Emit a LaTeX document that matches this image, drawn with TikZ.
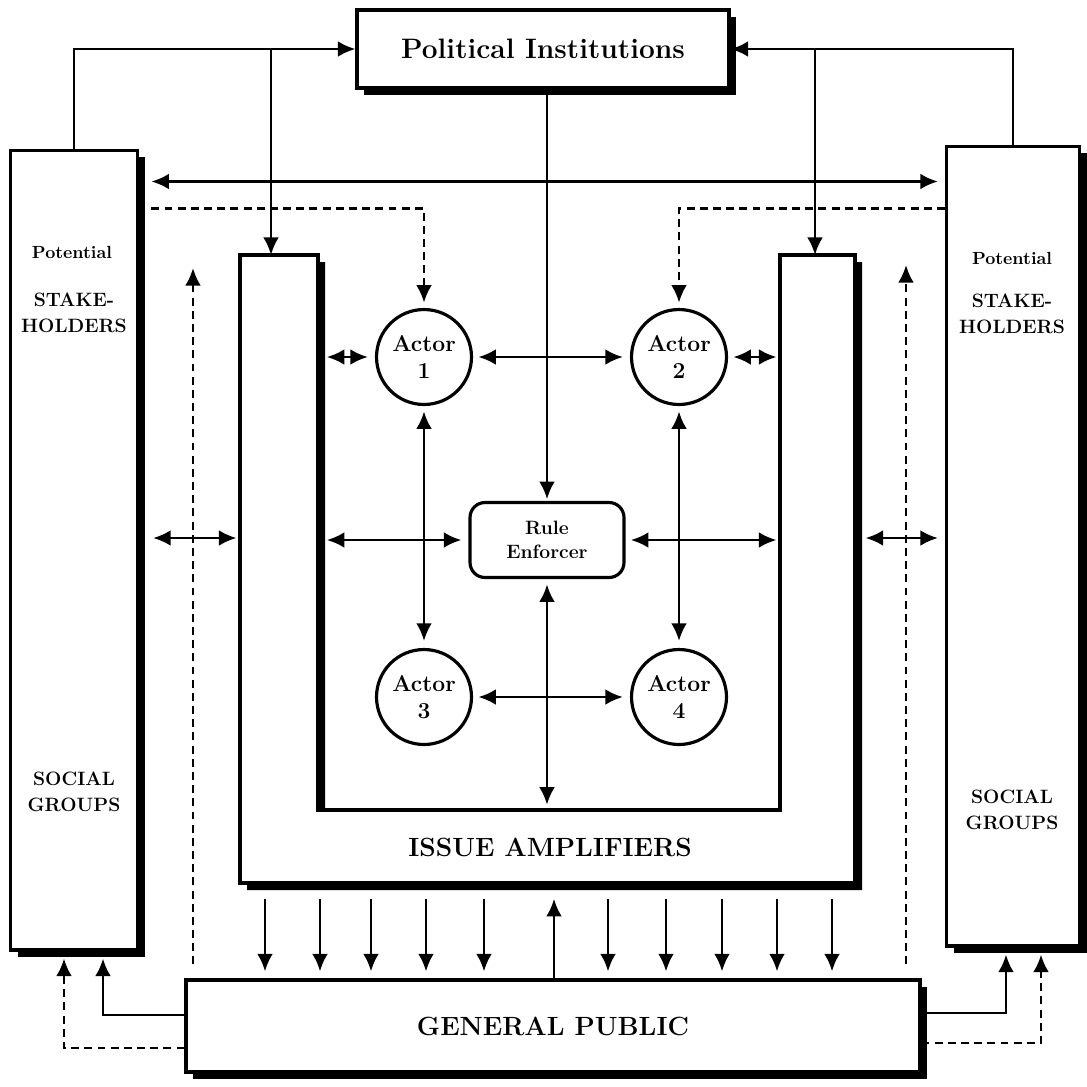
\documentclass[tikz,border=0pt]{standalone}
\usetikzlibrary{calc, arrows.meta, shadows}

\begin{document}
\begin{tikzpicture}[x=0.02cm, y=-0.02cm, line width=1.6pt,
    arr/.style={-{Latex[length=10pt,width=9pt]}},
    dbl/.style={{Latex[length=10pt,width=9pt]}-{Latex[length=10pt,width=9pt]}, shorten <=3pt, shorten >=4pt},
    dsh/.style={arr, dash pattern=on 4.5pt off 3pt},
    shd/.style={drop shadow={shadow xshift=4pt, shadow yshift=-4pt, opacity=1, fill=black}},
    box/.style={draw, line width=1.8pt, fill=white, shd, inner sep=0pt},
    actor/.style={draw, circle, fill=white, line width=1.8pt, minimum size=1.9cm, inner sep=0pt, align=center, font=\fontsize{13}{15}\selectfont\bfseries},
    coltxt/.style={align=center, font=\fontsize{11}{15}\selectfont\bfseries},
    pottxt/.style={font=\fontsize{10}{11}\selectfont\bfseries}]
    \useasboundingbox (0,0) rectangle (1087,1086);
    \node[box, minimum width=7.44cm, minimum height=1.56cm, font=\fontsize{16}{18}\selectfont\bfseries] (pol) at (543,49) {Political Institutions};
    \node[box, minimum width=2.54cm, minimum height=16cm] (colL) at (74,550) {};
    \node[box, minimum width=2.66cm, minimum height=16cm] (colR) at (1013,546) {};
    \node[box, minimum width=14.68cm, minimum height=1.84cm, font=\fontsize{15}{18}\selectfont\bfseries] (gp) at (553,1026) {GENERAL PUBLIC};
    \draw[shd, fill=white, line width=1.8pt] (240,255) -- (318,255) -- (318,810) -- (780,810) -- (780,255) -- (855,255) -- (855,883) -- (240,883) -- cycle;
    \coordinate (armL) at (271,255);
    \coordinate (armR) at (815,255);
    \coordinate (iaLout) at (240,538);
    \coordinate (iaRout) at (855,538);
    \coordinate (iaLin) at (318,545);
    \coordinate (iaRin) at (780,545);
    \coordinate (iaBin) at (548,810);
    \coordinate (ia) at (548,883);
    \coordinate (dL) at (193,268);
    \coordinate (dR) at (906,265);
    \node[font=\fontsize{15}{18}\selectfont\bfseries] (iatxt) at (550,847) {ISSUE AMPLIFIERS};
    \node[pottxt] (potL) at (72,252) {Potential};
    \node[coltxt] (stakeL) at (74,313) {STAKE-\\HOLDERS};
    \node[coltxt] (socL) at (74,792) {SOCIAL\\GROUPS};
    \node[pottxt] (potR) at (1012,258) {Potential};
    \node[coltxt] (stakeR) at (1012,314) {STAKE-\\HOLDERS};
    \node[coltxt] (socR) at (1012,810) {SOCIAL\\GROUPS};
    \node[actor] (act1) at (424,357) {Actor\\1};
    \node[actor] (act2) at (679,357) {Actor\\2};
    \node[actor] (act3) at (424,697) {Actor\\3};
    \node[actor] (act4) at (679,697) {Actor\\4};
    \node[draw, fill=white, line width=1.8pt, rounded corners=0.3cm, minimum width=3.08cm, minimum height=1.5cm, align=center, font=\fontsize{11}{14}\selectfont\bfseries] (rule) at (547,540) {Rule\\Enforcer};
    \draw[arr] (colL.north) |- (pol.west);
    \draw[arr] (colR.north) |- (pol.east);
    \draw[arr] (armL |- pol.west) -- (armL);
    \draw[arr] (armR |- pol.east) -- (armR);
    \draw[arr, shorten >=1pt] (pol.south -| rule.north) -- (rule.north);
    \draw[dbl, shorten <=7pt] ($(colL.north east)+(0,33)$) -- ($(colR.north west)+(0,37)$);
    \draw[dsh, shorten <=7pt, shorten >=3pt] ($(colL.north east)+(0,60)$) -| (act1);
    \draw[dsh, shorten >=3pt] ($(colR.north west)+(0,64)$) -| (act2);
    \draw[dsh, shorten <=8pt] (gp.north -| dL) -- (dL);
    \draw[dsh, shorten <=8pt] (gp.north -| dR) -- (dR);
    \draw[dbl, shorten <=5pt] (act1.west -| iaLin) -- (act1.west);
    \draw[dbl, shorten >=2pt] (act2.east) -- (act2.east -| iaRin);
    \draw[dbl] (act1) -- (act2);
    \draw[dbl] (act3) -- (act4);
    \draw[dbl] (act1) -- (act3);
    \draw[dbl] (act2) -- (act4);
    \draw[dbl, shorten <=5pt] (rule.west -| iaLin) -- (rule.west);
    \draw[dbl, shorten >=2pt] (rule.east) -- (rule.east -| iaRin);
    \draw[dbl, shorten >=3pt] (rule.south) -- (rule.south |- iaBin);
    \draw[dbl, shorten <=8pt, shorten >=2pt] (colL.east |- iaLout) -- (iaLout);
    \draw[dbl, shorten <=6pt, shorten >=4pt] (iaRout) -- (colR.west |- iaRout);
    \foreach \x in {265,320,371,426,484,608,666,722,777,832}
        \draw[arr, shorten <=9pt, shorten >=4pt] (\x,0 |- ia) -- (\x,0 |- gp.north);
    \draw[arr, shorten >=9pt] (554,0 |- gp.north) -- (554,0 |- ia);
    \draw[arr, shorten >=4pt] ($(gp.west)+(0,-11)$) -| ($(colL.south)+(29,0)$);
    \draw[dsh, shorten >=4pt] ($(gp.west)+(0,22)$) -| ($(colL.south)+(-10,0)$);
    \draw[arr, shorten >=4pt] ($(gp.east)+(0,-13)$) -| ($(colR.south)+(-7,0)$);
    \draw[dsh, shorten >=4pt] ($(gp.east)+(0,17)$) -| ($(colR.south)+(28,0)$);
\end{tikzpicture}
\end{document}
